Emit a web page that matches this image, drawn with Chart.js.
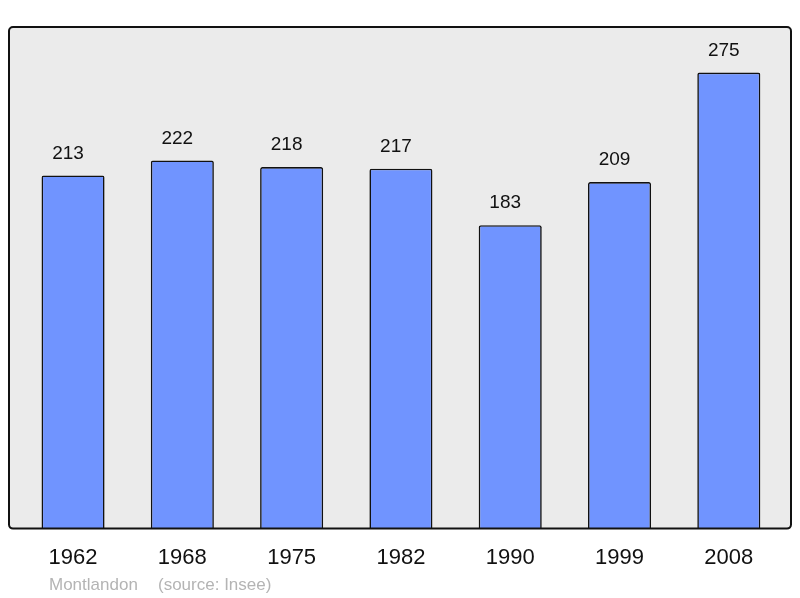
<!DOCTYPE html>
<html>
<head>
<meta charset="utf-8">
<script src="https://cdn.jsdelivr.net/npm/chart.js@4"></script>
<style>
    html, body { margin: 0; padding: 0; background: #fff; }
    #wrap { width: 800px; height: 598px; position: relative; }
</style>
</head>
<body>
<div id="wrap"><canvas id="popChart"></canvas></div>
<script>
// Population data (Insee)
const years = ['1962', '1968', '1975', '1982', '1990', '1999', '2008'];
const population = [213, 222, 218, 217, 183, 209, 275];
const footerName = 'Montlandon';
const footerSource = '(source: Insee)';

const FONT = "'Liberation Sans', Arial, sans-serif";

// Grey rounded frame behind the bars
const framePlugin = {
    id: 'frame',
    beforeDraw(chart) {
        const { ctx, chartArea: a } = chart;
        ctx.save();
        ctx.beginPath();
        ctx.roundRect(a.left, a.top, a.right - a.left, a.bottom - a.top, 4);
        ctx.fillStyle = '#ebebeb';
        ctx.fill();
        ctx.restore();
    },
    afterDatasetsDraw(chart) {
        const { ctx, chartArea: a } = chart;
        ctx.save();
        ctx.beginPath();
        ctx.roundRect(a.left, a.top, a.right - a.left, a.bottom - a.top, 4);
        ctx.lineWidth = 2;
        ctx.strokeStyle = '#111';
        ctx.stroke();
        ctx.restore();
    }
};

// Value labels above each bar + footer text
const labelPlugin = {
    id: 'labels',
    afterDraw(chart) {
        const ctx = chart.ctx;
        const meta = chart.getDatasetMeta(0);
        ctx.save();
        ctx.fillStyle = '#111';
        ctx.font = '19px ' + FONT;
        ctx.textAlign = 'center';
        ctx.textBaseline = 'middle';
        meta.data.forEach((bar, i) => {
            // labels sit a little left of the bar centre in the original
            ctx.fillText(population[i], bar.x - 5, bar.y - 22);
        });

        ctx.fillStyle = '#b4b4b4';
        ctx.font = '17px ' + FONT;
        ctx.textAlign = 'left';
        ctx.textBaseline = 'alphabetic';
        ctx.fillText(footerName, 49, 590);
        ctx.fillText(footerSource, 158, 590);
        ctx.restore();
    }
};

new Chart(document.getElementById('popChart'), {
    type: 'bar',
    data: {
        datasets: [{
            data: population.map((v, i) => ({ x: i, y: v })),
            backgroundColor: '#7094ff',
            borderColor: '#111',
            borderWidth: 1.6,
            borderRadius: 2,
            borderSkipped: 'bottom',
            barPercentage: 0.577,
            categoryPercentage: 1
        }]
    },
    options: {
        responsive: true,
        maintainAspectRatio: false,
        animation: false,
        layout: { padding: { left: 9, right: 9, top: 27, bottom: 11 } },
        plugins: {
            legend: { display: false },
            tooltip: { enabled: false }
        },
        scales: {
            x: {
                type: 'linear',
                offset: false,
                min: -0.586,
                max: 6.569,
                afterBuildTicks(scale) {
                    scale.ticks = years.map((y, i) => ({ value: i }));
                },
                grid: { display: false, drawTicks: false },
                border: { display: false },
                ticks: {
                    padding: 16,
                    color: '#111',
                    font: { family: FONT, size: 22 },
                    maxRotation: 0,
                    autoSkip: false,
                    callback: (v) => years[v] ?? ''
                }
            },
            y: {
                display: false,
                min: 0,
                max: 302.5
            }
        }
    },
    plugins: [framePlugin, labelPlugin]
});
</script>
</body>
</html>
